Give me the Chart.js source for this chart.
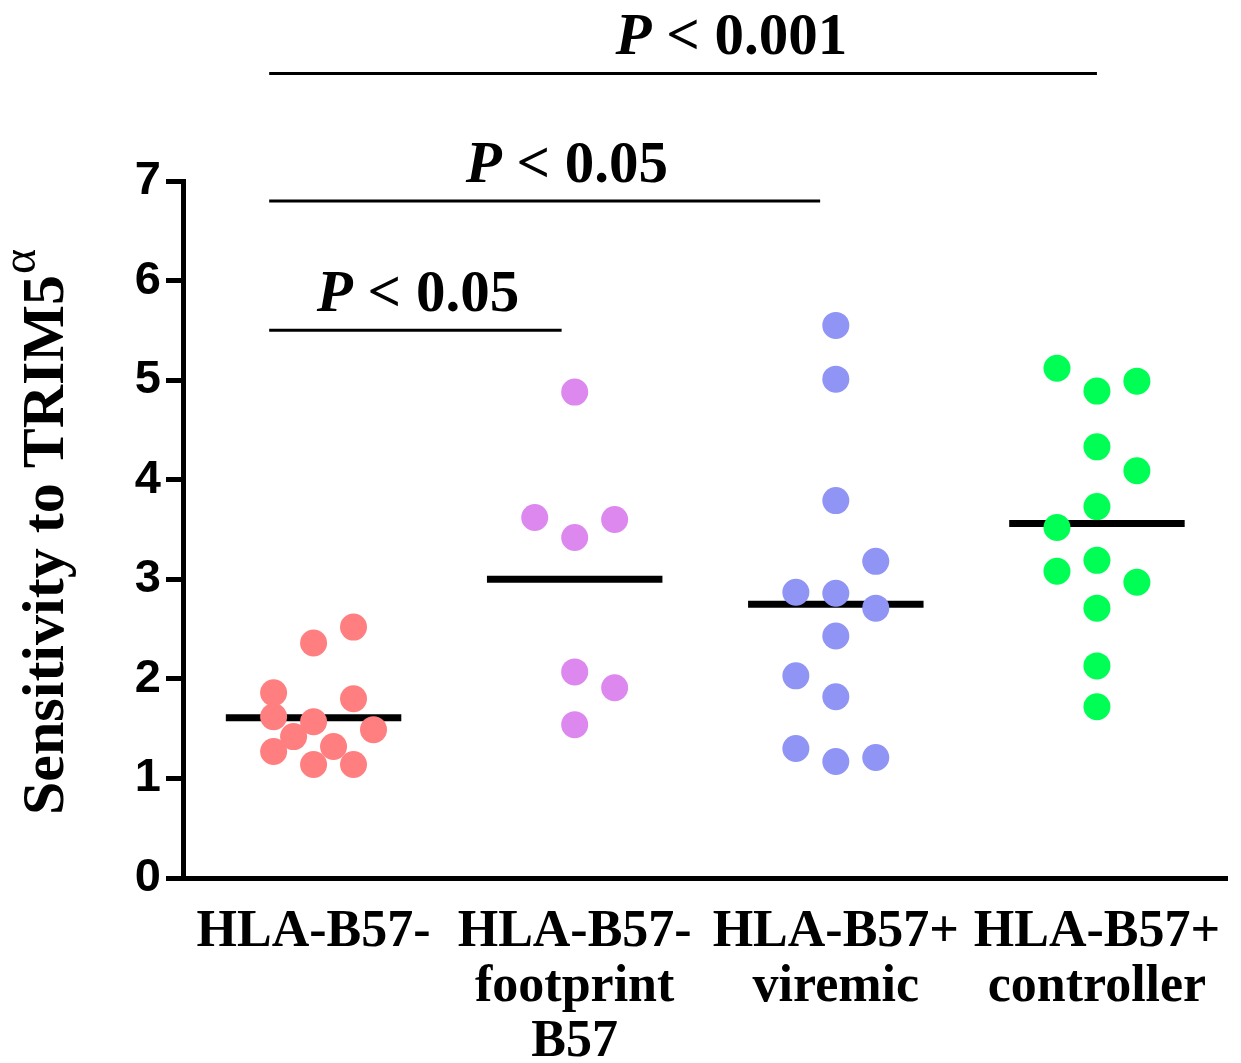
<!DOCTYPE html>
<html>
<head>
<meta charset="utf-8">
<script src="https://cdn.jsdelivr.net/npm/chart.js@4.4.1/dist/chart.umd.min.js"></script>
<style>
  html, body { margin: 0; padding: 0; background: #fff; }
  #wrap { width: 1241px; height: 1063px; }
</style>
</head>
<body>
<div id="wrap"><canvas id="myChart" width="1241" height="1063"></canvas></div>
<script>
// groups on the x axis
const categories = [
    ['HLA-B57-'],
    ['HLA-B57-', 'footprint', 'B57'],
    ['HLA-B57+', 'viremic'],
    ['HLA-B57+', 'controller']
];
const groupColors = ['#ff7f80', '#dd88ee', '#8f94f5', '#00ff55'];

// sensitivity values, one array per group, and the jitter column of each dot
const b57Neg = [2.52, 2.36, 1.86, 1.80, 1.62, 1.57, 1.42, 1.49, 1.27, 1.32, 1.14, 1.14];
const b57NegSlot = [2, 0, -2, 2, -2, 0, -1, 3, -2, 1, 0, 2];
const b57Footprint = [4.88, 3.62, 3.42, 3.60, 2.07, 1.91, 1.54];
const b57FootprintSlot = [0, -2, 0, 2, 0, 2, 0];
const b57Viremic = [5.55, 5.01, 3.79, 3.18, 2.87, 2.86, 2.71, 2.43, 2.03, 1.82, 1.30, 1.17, 1.21];
const b57ViremicSlot = [0, 0, 0, 2, -2, 0, 2, 0, -2, 0, -2, 0, 2];
const b57Controller = [5.12, 4.89, 4.99, 4.33, 4.09, 3.73, 3.52, 3.19, 3.08, 2.97, 2.71, 2.13, 1.72];
const b57ControllerSlot = [-2, 0, 2, 0, 2, 0, -2, 0, -2, 2, 0, 0, 0];

const medians = [1.61, 3.00, 2.75, 3.56];
const yTicks = [0, 1, 2, 3, 4, 5, 6, 7];

// significance brackets
const sigLabels = ['0.001', '0.05', '0.05'];
const sigStart = [0.83, 0.83, 0.83];
const sigEnd = [4.00, 2.94, 1.95];
const sigLevel = [8.08, 6.80, 5.50];
const sigTextX = [2.60, 1.97, 1.40];

const groups = [b57Neg, b57Footprint, b57Viremic, b57Controller];
const slots = [b57NegSlot, b57FootprintSlot, b57ViremicSlot, b57ControllerSlot];
const slotWidth = 0.0765;
const medianHalf = 0.336;

const datasets = [];
groups.forEach((vals, g) => {
    datasets.push({
        data: vals.map((v, i) => ({ x: g + 1 + slots[g][i] * slotWidth, y: v })),
        backgroundColor: groupColors[g],
        borderWidth: 0,
        pointRadius: 13.5,
        pointHoverRadius: 13.5,
        order: 0
    });
});
medians.forEach((m, g) => {
    datasets.push({
        data: [{ x: g + 1 - medianHalf, y: m }, { x: g + 1 + medianHalf, y: m }],
        showLine: true,
        borderColor: '#000',
        borderWidth: 7,
        pointRadius: 0,
        order: 1
    });
});
sigLevel.forEach((lvl, i) => {
    datasets.push({
        data: [{ x: sigStart[i], y: lvl }, { x: sigEnd[i], y: lvl }],
        showLine: true,
        borderColor: '#000',
        borderWidth: 3,
        pointRadius: 0,
        clip: false,
        order: 1
    });
});

const extraText = {
    id: 'extraText',
    afterDraw(chart) {
        const { ctx, scales: { x, y } } = chart;
        ctx.save();
        ctx.fillStyle = '#000';
        ctx.textAlign = 'left';
        ctx.textBaseline = 'alphabetic';
        sigLabels.forEach((label, i) => {
            const cx = x.getPixelForValue(sigTextX[i]);
            const by = y.getPixelForValue(sigLevel[i]) - 19;
            const rest = ' < ' + label;
            ctx.font = 'italic bold 59px "Liberation Serif"';
            const pW = ctx.measureText('P').width;
            ctx.font = 'bold 59px "Liberation Serif"';
            const rW = ctx.measureText(rest).width;
            const sx = cx - (pW + rW) / 2;
            ctx.font = 'italic bold 59px "Liberation Serif"';
            ctx.fillText('P', sx, by);
            ctx.font = 'bold 59px "Liberation Serif"';
            ctx.fillText(rest, sx + pW, by);
        });

        // y axis title with raised alpha
        ctx.translate(63, 815);
        ctx.rotate(-Math.PI / 2);
        ctx.font = 'bold 60px "Liberation Serif"';
        const main = 'Sensitivity to TRIM5';
        ctx.fillText(main, 0, 0);
        const w = ctx.measureText(main).width;
        ctx.font = '48px "Liberation Serif"';
        ctx.fillText('\u03b1', w + 1, -28);
        ctx.restore();
    }
};

const ctx = document.getElementById('myChart').getContext('2d');
const chart = new Chart(ctx, {
    type: 'scatter',
    data: { datasets: datasets },
    options: {
        responsive: false,
        animation: false,
        layout: { padding: { top: 181, right: 11, left: 0, bottom: 0 } },
        plugins: { legend: { display: false }, tooltip: { enabled: false } },
        scales: {
            x: {
                type: 'linear',
                min: 0.5,
                max: 4.5,
                afterBuildTicks: (axis) => { axis.ticks = categories.map((c, i) => ({ value: i + 1 })); },
                afterFit: (scale) => {
                    scale.height = 185;
                    scale.paddingLeft = 0;
                    scale.paddingRight = 0;
                },
                grid: { drawOnChartArea: false, drawTicks: false },
                border: { color: '#000', width: 5 },
                ticks: {
                    callback: (v) => categories[v - 1],
                    autoSkip: false,
                    maxRotation: 0,
                    padding: 27,
                    color: '#000',
                    font: { family: 'Liberation Serif', size: 52, weight: 'bold', lineHeight: 1.06 }
                }
            },
            y: {
                min: 0,
                max: 7,
                afterBuildTicks: (axis) => { axis.ticks = yTicks.map(v => ({ value: v })); },
                afterFit: (scale) => {
                    scale.width = 183;
                    scale.paddingTop = 0;
                    scale.paddingBottom = 0;
                },
                grid: { drawOnChartArea: false, drawTicks: true, tickLength: 17, tickWidth: 5, tickColor: '#000' },
                border: { color: '#000', width: 5 },
                ticks: {
                    padding: 5,
                    color: '#000',
                    font: { family: 'Liberation Sans', size: 47, weight: 'bold' }
                }
            }
        }
    },
    plugins: [extraText]
});
</script>
</body>
</html>
